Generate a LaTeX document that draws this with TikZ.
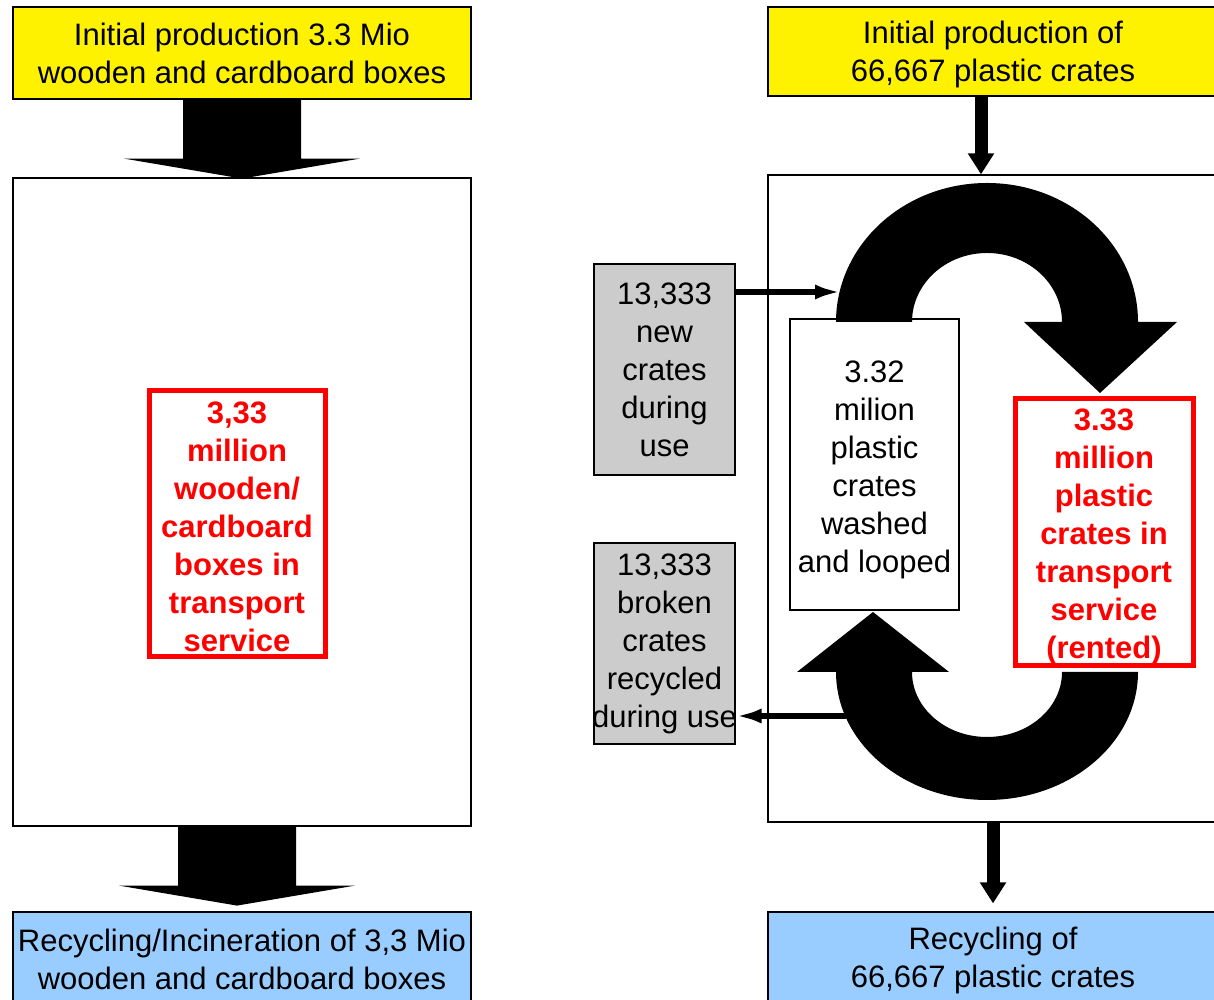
\documentclass[tikz,border=0pt]{standalone}
\usepackage{fontspec}
\setmainfont{Liberation Sans}
\usetikzlibrary{arrows.meta,calc}
\definecolor{recblue}{HTML}{99CCFF}
\definecolor{sidegray}{HTML}{CCCCCC}
\newcommand{\fatarrow}[1]{\fill (#1) ++(-59,0) -- ++(0,-59) -- ++(-59,0) -- ++(118,-20) -- ++(118,20) -- ++(-59,0) -- ++(0,59) -- cycle;}
\newcommand{\sinkby}[1]{\rule{0pt}{#1}}

\begin{document}
\begin{tikzpicture}[x=1pt,y=1pt,
  base/.style={draw=black,line width=1.2pt,inner sep=0pt,align=center,font=\fontsize{31}{38}\selectfont},
  startbox/.style={base,fill=yellow},
  endbox/.style={base,fill=recblue},
  sidebox/.style={base,fill=sidegray},
  loopbox/.style={base,fill=white},
  servicebox/.style={base,draw=red,line width=5pt,text=red,font=\fontsize{31}{38}\selectfont\bfseries},
  flowline/.style={line width=6.5pt,-{Latex[length=26pt,width=15pt]}},
  feedline/.style={line width=13pt,-{Triangle[length=21pt,width=25pt]}}]
\useasboundingbox (0,0) rectangle (1214,1000);

\node[startbox,minimum width=458,minimum height=92] (prodL) at (242,947) {Initial production 3.3 Mio\\wooden and cardboard boxes};
\node[base,minimum width=458,minimum height=648] (boxL) at (242,498) {};
\node[endbox,minimum width=458,minimum height=94] (recL) at (242,41) {Recycling/Incineration of 3,3 Mio\\wooden and cardboard boxes};
\node[servicebox,minimum width=176,minimum height=266] (servL) at (237,476) {\sinkby{28pt}3,33\\million\\wooden/\\cardboard\\boxes in\\transport\\service};
\fatarrow{prodL.south}
\fatarrow{$(boxL.south)+(-5,0)$}

\node[startbox,minimum width=450,minimum height=89] (prodR) at (993,948.5) {\sinkby{28pt}Initial production of\\66,667 plastic crates};
\node[base,minimum width=450,minimum height=647] (boxR) at (993,501.5) {};
\node[endbox,minimum width=450,minimum height=94] (recR) at (993,41) {\sinkby{26pt}Recycling of\\66,667 plastic crates};
\node[sidebox,minimum width=141,minimum height=211] (newc) at (664.5,630.5) {13,333\\new\\crates\\during\\use};
\node[sidebox,minimum width=141,minimum height=201] (brkc) at (664.5,356.5) {13,333\\broken\\crates\\recycled\\\makebox[0pt]{during use}};
\node[loopbox,minimum width=169,minimum height=291] (wash) at (874.5,535.5) {\sinkby{32pt}3.32\\milion\\plastic\\crates\\washed\\and looped};
\node[servicebox,minimum width=178,minimum height=264] (servR) at (1104,468) {\sinkby{32pt}3.33\\million\\plastic\\crates in\\transport\\service\\(rented)};

\fill (836,678) arc[start angle=180,end angle=0,x radius=151,y radius=139] -- (1177,678) -- (1100,607) -- (1024,678) -- (1062,678) arc[start angle=0,end angle=180,x radius=75,y radius=69] -- cycle;
\fill (1138,328) arc[start angle=0,end angle=-180,x radius=151,y radius=128] -- (797,328) -- (873,388) -- (949,328) -- (912,328) arc[start angle=180,end angle=360,x radius=75,y radius=65] -- cycle;
\coordinate (inflow) at (841,708);
\coordinate (outflow) at (846,284);

\draw[feedline] ([xshift=-12]prodR.south) -- ([xshift=-12]boxR.north);
\draw[feedline] (boxR.south) -- ([yshift=8]recR.north);
\draw[flowline] (newc.east |- inflow) -- (inflow);
\draw[flowline] (outflow) -- (outflow -| brkc.east);
\end{tikzpicture}
\end{document}
